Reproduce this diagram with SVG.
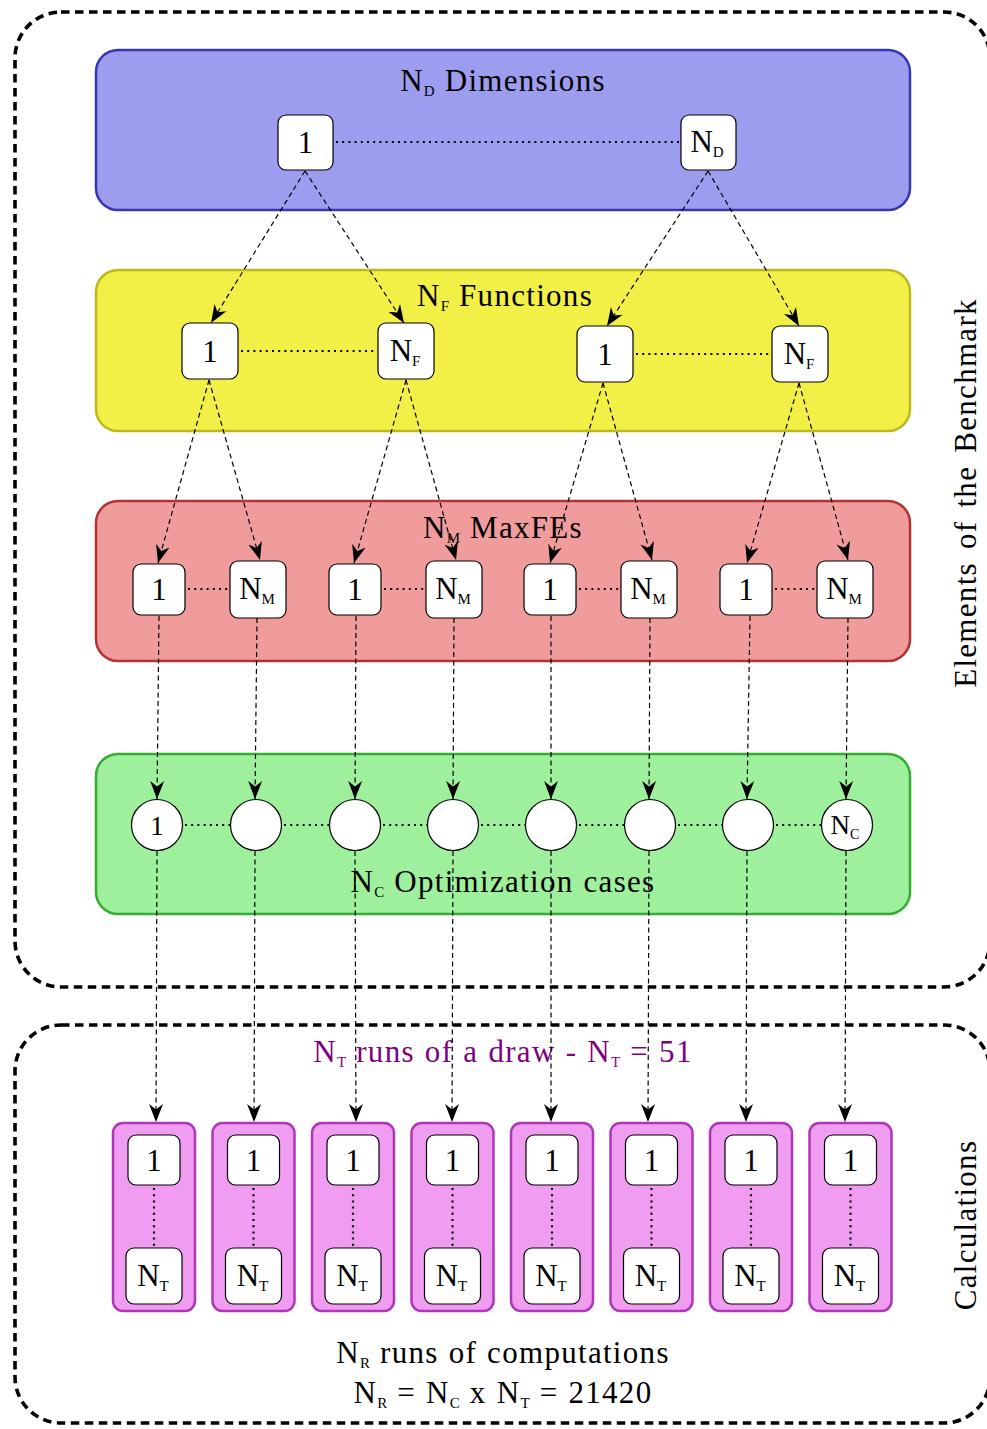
<svg xmlns="http://www.w3.org/2000/svg" width="987" height="1429" viewBox="0 0 987 1429">
<style>
text{font-family:"Liberation Serif","Times New Roman",serif;fill:#000}
.h{font-size:31px;text-anchor:middle;letter-spacing:1.3px;word-spacing:1px}
.n{font-size:31px;text-anchor:middle}
.s{font-size:15px;letter-spacing:0}
.outer{fill:none;stroke:#000;stroke-width:3.6;stroke-dasharray:8.5 5.5}
.layer{stroke-width:2.5}
.box{fill:#fff;stroke:#000;stroke-width:1.2}
.dot{fill:none;stroke:#000;stroke-width:2.2;stroke-dasharray:2 4.2}
.arr{fill:none;stroke:#000;stroke-width:1.2;stroke-dasharray:5 3.5;marker-end:url(#ah)}
.pink{fill:#F09CF0;stroke:#B036B8;stroke-width:2.5}
</style>
<defs>
<marker id="ah" markerUnits="userSpaceOnUse" markerWidth="20" markerHeight="16" refX="18" refY="8" orient="auto">
<path d="M0,1 L18,8 L0,15 L5.5,8 Z" fill="#000"/>
</marker>
</defs>

<g id="frames">
<rect class="outer" x="15" y="12" width="975" height="975" rx="46"/>
<rect class="outer" x="15" y="1025" width="975" height="398" rx="46"/>
</g>

<g id="layer-dimensions">
<rect class="layer" x="96" y="50" width="814" height="160" rx="22" fill="#9D9DF0" stroke="#3737B4"/>
<text class="h" x="503" y="91">N<tspan class="s" dy="5">D</tspan><tspan dy="-5"> Dimensions</tspan></text>
</g>
<g id="layer-functions">
<rect class="layer" x="96" y="270" width="814" height="161" rx="22" fill="#F2F046" stroke="#BDB81E"/>
<text class="h" x="505" y="306">N<tspan class="s" dy="5">F</tspan><tspan dy="-5"> Functions</tspan></text>
</g>
<g id="layer-maxfes">
<rect class="layer" x="96" y="501" width="814" height="160" rx="22" fill="#F09C9C" stroke="#B43232"/>
<text class="h" x="503" y="538">N<tspan class="s" dy="5">M</tspan><tspan dy="-5"> MaxFEs</tspan></text>
</g>
<g id="layer-cases">
<rect class="layer" x="96" y="754" width="814" height="160" rx="22" fill="#9EF09C" stroke="#36AD32"/>
<text class="h" x="503" y="892">N<tspan class="s" dy="5">C</tspan><tspan dy="-5"> Optimization cases</tspan></text>
</g>

<g id="labels">
<text class="h" x="503" y="1062" style="fill:#7F007F">N<tspan class="s" dy="5" style="fill:#7F007F">T</tspan><tspan dy="-5" style="fill:#7F007F"> runs of a draw - N</tspan><tspan class="s" dy="5" style="fill:#7F007F">T</tspan><tspan dy="-5" style="fill:#7F007F"> = 51</tspan></text>
<text class="h" x="503" y="1363">N<tspan class="s" dy="5">R</tspan><tspan dy="-5"> runs of computations</tspan></text>
<text class="h" x="503" y="1403">N<tspan class="s" dy="5">R</tspan><tspan dy="-5"> = N</tspan><tspan class="s" dy="5">C</tspan><tspan dy="-5"> x N</tspan><tspan class="s" dy="5">T</tspan><tspan dy="-5"> = 21420</tspan></text>
<text class="h" transform="translate(976,493) rotate(-90)" x="0" y="0" style="word-spacing:4px">Elements of the Benchmark</text>
<text class="h" transform="translate(976,1225) rotate(-90)" x="0" y="0">Calculations</text>
</g>

<g id="pink-boxes">
<rect class="pink" x="113" y="1123" width="82" height="188" rx="10"/>
<rect class="pink" x="212.5" y="1123" width="82" height="188" rx="10"/>
<rect class="pink" x="312" y="1123" width="82" height="188" rx="10"/>
<rect class="pink" x="411.5" y="1123" width="82" height="188" rx="10"/>
<rect class="pink" x="511" y="1123" width="82" height="188" rx="10"/>
<rect class="pink" x="610.5" y="1123" width="82" height="188" rx="10"/>
<rect class="pink" x="710" y="1123" width="82" height="188" rx="10"/>
<rect class="pink" x="809.5" y="1123" width="82" height="188" rx="10"/>
</g>

<g id="connectors">
<line class="dot" x1="336" y1="142" x2="680" y2="142"/>
<line class="dot" x1="241" y1="351" x2="377" y2="351"/>
<line class="dot" x1="636" y1="354" x2="771" y2="354"/>
<line class="dot" x1="188" y1="589" x2="229" y2="589"/>
<line class="dot" x1="384" y1="589" x2="425" y2="589"/>
<line class="dot" x1="579" y1="589" x2="620" y2="589"/>
<line class="dot" x1="775" y1="589" x2="816" y2="589"/>
<line class="dot" x1="185" y1="825" x2="230" y2="825"/>
<line class="dot" x1="284" y1="825" x2="329" y2="825"/>
<line class="dot" x1="383" y1="825" x2="427" y2="825"/>
<line class="dot" x1="481" y1="825" x2="525" y2="825"/>
<line class="dot" x1="579" y1="825" x2="624" y2="825"/>
<line class="dot" x1="678" y1="825" x2="722" y2="825"/>
<line class="dot" x1="776" y1="825" x2="821" y2="825"/>
<line class="dot" x1="154" y1="1188" x2="154" y2="1247"/>
<line class="dot" x1="253.5" y1="1188" x2="253.5" y2="1247"/>
<line class="dot" x1="353" y1="1188" x2="353" y2="1247"/>
<line class="dot" x1="452.5" y1="1188" x2="452.5" y2="1247"/>
<line class="dot" x1="552" y1="1188" x2="552" y2="1247"/>
<line class="dot" x1="651.5" y1="1188" x2="651.5" y2="1247"/>
<line class="dot" x1="751" y1="1188" x2="751" y2="1247"/>
<line class="dot" x1="850.5" y1="1188" x2="850.5" y2="1247"/>

<line class="arr" x1="305" y1="171" x2="211" y2="323"/>
<line class="arr" x1="305" y1="171" x2="404" y2="323"/>
<line class="arr" x1="708" y1="171" x2="607" y2="326"/>
<line class="arr" x1="708" y1="171" x2="799" y2="326"/>

<line class="arr" x1="209" y1="380" x2="158" y2="563"/>
<line class="arr" x1="209" y1="380" x2="260" y2="560"/>
<line class="arr" x1="406" y1="380" x2="354" y2="563"/>
<line class="arr" x1="406" y1="380" x2="456" y2="560"/>
<line class="arr" x1="603" y1="383" x2="550" y2="563"/>
<line class="arr" x1="603" y1="383" x2="652" y2="560"/>
<line class="arr" x1="799" y1="383" x2="747" y2="563"/>
<line class="arr" x1="799" y1="383" x2="848" y2="560"/>

<line class="arr" x1="159" y1="616" x2="157" y2="799"/>
<line class="arr" x1="257" y1="618" x2="255" y2="799"/>
<line class="arr" x1="356" y1="616" x2="355" y2="799"/>
<line class="arr" x1="454" y1="618" x2="453" y2="799"/>
<line class="arr" x1="551" y1="616" x2="551" y2="799"/>
<line class="arr" x1="650" y1="618" x2="649" y2="799"/>
<line class="arr" x1="750" y1="616" x2="747" y2="799"/>
<line class="arr" x1="848" y1="618" x2="846" y2="799"/>

<line class="arr" x1="157" y1="851" x2="156" y2="1122"/>
<line class="arr" x1="255" y1="851" x2="254" y2="1122"/>
<line class="arr" x1="355" y1="851" x2="356" y2="1122"/>
<line class="arr" x1="453" y1="851" x2="452" y2="1122"/>
<line class="arr" x1="551" y1="851" x2="551" y2="1122"/>
<line class="arr" x1="649" y1="851" x2="648" y2="1122"/>
<line class="arr" x1="747" y1="851" x2="746" y2="1122"/>
<line class="arr" x1="846" y1="851" x2="845" y2="1122"/>
</g>

<g id="dim-1"><rect class="box" x="278" y="115" width="55" height="55" rx="8"/><text class="n" x="305.5" y="153">1</text></g>
<g id="dim-N"><rect class="box" x="681" y="115" width="55" height="55" rx="8"/><text class="n" x="707" y="152">N<tspan class="s" dy="5">D</tspan></text></g>

<g id="fun-a-1"><rect class="box" x="182" y="323" width="56" height="56" rx="8"/><text class="n" x="210" y="362">1</text></g>
<g id="fun-a-N"><rect class="box" x="378" y="323" width="56" height="56" rx="8"/><text class="n" x="405" y="361">N<tspan class="s" dy="5">F</tspan></text></g>
<g id="fun-b-1"><rect class="box" x="577" y="326" width="56" height="56" rx="8"/><text class="n" x="605" y="365">1</text></g>
<g id="fun-b-N"><rect class="box" x="772" y="326" width="56" height="56" rx="8"/><text class="n" x="799" y="364">N<tspan class="s" dy="5">F</tspan></text></g>

<g id="mfe-1-1"><rect class="box" x="133" y="564" width="52" height="51" rx="8"/><text class="n" x="159" y="600">1</text></g>
<g id="mfe-1-N"><rect class="box" x="230" y="561" width="56" height="57" rx="8"/><text class="n" x="257" y="599">N<tspan class="s" dy="5">M</tspan></text></g>
<g id="mfe-2-1"><rect class="box" x="329" y="564" width="52" height="51" rx="8"/><text class="n" x="355" y="600">1</text></g>
<g id="mfe-2-N"><rect class="box" x="426" y="561" width="56" height="57" rx="8"/><text class="n" x="453" y="599">N<tspan class="s" dy="5">M</tspan></text></g>
<g id="mfe-3-1"><rect class="box" x="524" y="564" width="52" height="51" rx="8"/><text class="n" x="550" y="600">1</text></g>
<g id="mfe-3-N"><rect class="box" x="621" y="561" width="56" height="57" rx="8"/><text class="n" x="648" y="599">N<tspan class="s" dy="5">M</tspan></text></g>
<g id="mfe-4-1"><rect class="box" x="720" y="564" width="52" height="51" rx="8"/><text class="n" x="746" y="600">1</text></g>
<g id="mfe-4-N"><rect class="box" x="817" y="561" width="56" height="57" rx="8"/><text class="n" x="844" y="599">N<tspan class="s" dy="5">M</tspan></text></g>

<g id="case-1"><circle class="box" cx="157" cy="825" r="25.5"/><text class="n" x="157" y="835" style="font-size:27px">1</text></g>
<g id="case-2"><circle class="box" cx="256" cy="825" r="25.5"/></g>
<g id="case-3"><circle class="box" cx="355" cy="825" r="25.5"/></g>
<g id="case-4"><circle class="box" cx="453" cy="825" r="25.5"/></g>
<g id="case-5"><circle class="box" cx="551" cy="825" r="25.5"/></g>
<g id="case-6"><circle class="box" cx="650" cy="825" r="25.5"/></g>
<g id="case-7"><circle class="box" cx="748" cy="825" r="25.5"/></g>
<g id="case-N"><circle class="box" cx="847" cy="825" r="25.5"/><text class="n" x="845" y="834" style="font-size:27px">N<tspan class="s" dy="5" style="font-size:14px">C</tspan></text></g>

<g id="run-1"><rect class="box" x="128" y="1135" width="52" height="50" rx="8"/><text class="n" x="154" y="1171">1</text><rect class="box" x="126" y="1248" width="56" height="56" rx="8"/><text class="n" x="153" y="1286">N<tspan class="s" dy="5">T</tspan></text></g>
<g id="run-2"><rect class="box" x="227.5" y="1135" width="52" height="50" rx="8"/><text class="n" x="253.5" y="1171">1</text><rect class="box" x="225.5" y="1248" width="56" height="56" rx="8"/><text class="n" x="252.5" y="1286">N<tspan class="s" dy="5">T</tspan></text></g>
<g id="run-3"><rect class="box" x="327" y="1135" width="52" height="50" rx="8"/><text class="n" x="353" y="1171">1</text><rect class="box" x="325" y="1248" width="56" height="56" rx="8"/><text class="n" x="352" y="1286">N<tspan class="s" dy="5">T</tspan></text></g>
<g id="run-4"><rect class="box" x="426.5" y="1135" width="52" height="50" rx="8"/><text class="n" x="452.5" y="1171">1</text><rect class="box" x="424.5" y="1248" width="56" height="56" rx="8"/><text class="n" x="451.5" y="1286">N<tspan class="s" dy="5">T</tspan></text></g>
<g id="run-5"><rect class="box" x="526" y="1135" width="52" height="50" rx="8"/><text class="n" x="552" y="1171">1</text><rect class="box" x="524" y="1248" width="56" height="56" rx="8"/><text class="n" x="551" y="1286">N<tspan class="s" dy="5">T</tspan></text></g>
<g id="run-6"><rect class="box" x="625.5" y="1135" width="52" height="50" rx="8"/><text class="n" x="651.5" y="1171">1</text><rect class="box" x="623.5" y="1248" width="56" height="56" rx="8"/><text class="n" x="650.5" y="1286">N<tspan class="s" dy="5">T</tspan></text></g>
<g id="run-7"><rect class="box" x="725" y="1135" width="52" height="50" rx="8"/><text class="n" x="751" y="1171">1</text><rect class="box" x="723" y="1248" width="56" height="56" rx="8"/><text class="n" x="750" y="1286">N<tspan class="s" dy="5">T</tspan></text></g>
<g id="run-8"><rect class="box" x="824.5" y="1135" width="52" height="50" rx="8"/><text class="n" x="850.5" y="1171">1</text><rect class="box" x="822.5" y="1248" width="56" height="56" rx="8"/><text class="n" x="849.5" y="1286">N<tspan class="s" dy="5">T</tspan></text></g>
</svg>
